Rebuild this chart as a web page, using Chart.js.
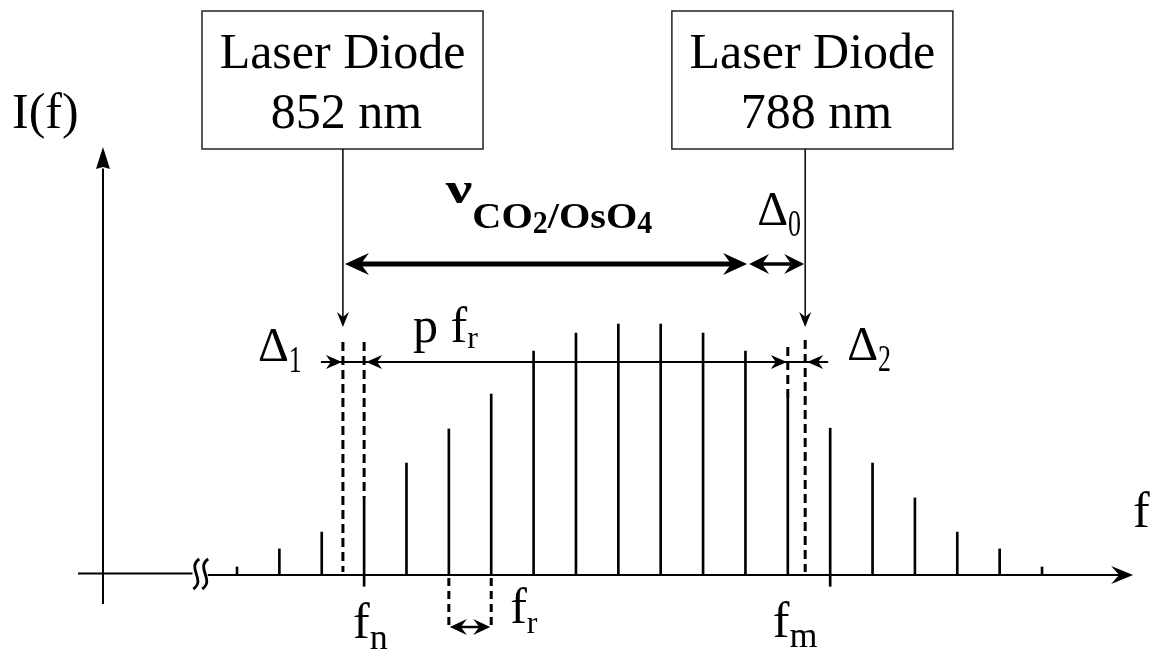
<!DOCTYPE html>
<html>
<head>
<meta charset="utf-8">
<script src="https://cdn.jsdelivr.net/npm/chart.js@4"></script>
<style>
	html, body { margin: 0; padding: 0; background: #fff; }
	#wrap { width: 1160px; height: 655px; position: relative; }
</style>
</head>
<body>
<div id="wrap"><canvas id="comb-canvas"></canvas></div>
<script>
// comb teeth: index n (in units of f_r) and relative intensity
var combIndex = [0, 1, 2, 3, 4, 5, 6, 7, 8, 9, 10, 11, 12, 13, 14, 15, 16, 17, 18, 19];
var combIntensity = [0.032, 0.104, 0.171, 0.307, 0.446, 0.582, 0.721, 0.892, 0.964, 1.0,
	1.0, 0.964, 0.892, 0.705, 0.585, 0.446, 0.307, 0.171, 0.104, 0.032];
// teeth that carry a small mark below the axis
var belowAxisTicks = [3, 14];
var belowAxisDepth = -0.045;

// the two laser diodes, position on the same frequency axis
var laserNames = ["Laser Diode", "Laser Diode"];
var laserWavelengths = ["852 nm", "788 nm"];
var laserFreq = [2.5, 13.41];
var laserBoxCenter = [2.49, 13.58];

var fnIndex = 3;
var fmIndex = 13;
var frPair = [5, 6];
var nuEnd = 12.04;

window.onload = function() {
	initChart();
}

function initChart() {
	var pxPerUnitX = 42.37, originX = 237;
	var pxPerUnitY = 251, originY = 575;

	var combData = [];
	for(var i = 0; i < combIndex.length; i++)
		combData.push({x: combIndex[i], y: combIntensity[i]});

	var tickData = [];
	for(var t of belowAxisTicks)
		tickData.push({x: t, y: [belowAxisDepth, 0]});

	window.combChart = new Chart(document.getElementById("comb-canvas"), {
		type: "bar",
		data: {
			datasets: [{
				label: "comb",
				data: combData,
				backgroundColor: "#000",
				borderWidth: 0,
				barThickness: 2,
				grouped: false
			}, {
				label: "ticks",
				data: tickData,
				backgroundColor: "#000",
				borderWidth: 0,
				barThickness: 2,
				grouped: false
			}]
		},
		options: {
			responsive: true,
			maintainAspectRatio: false,
			animation: false,
			layout: { padding: 0 },
			plugins: {
				legend: { display: false },
				tooltip: { enabled: false }
			},
			scales: {
				x: {
					type: "linear",
					display: false,
					offset: false,
					min: -originX / pxPerUnitX,
					max: (1160 - originX) / pxPerUnitX
				},
				y: {
					display: false,
					min: (originY - 655) / pxPerUnitY,
					max: originY / pxPerUnitY
				}
			}
		},
		plugins: [diagramPlugin]
	});
}

function arrowHead(ctx, tipX, tipY, dx, dy, len, half, notch) {
	var nx = -dy, ny = dx;
	ctx.beginPath();
	ctx.moveTo(tipX, tipY);
	ctx.lineTo(tipX - len * dx + half * nx, tipY - len * dy + half * ny);
	ctx.lineTo(tipX - notch * dx, tipY - notch * dy);
	ctx.lineTo(tipX - len * dx - half * nx, tipY - len * dy - half * ny);
	ctx.closePath();
	ctx.fill();
}

function line(ctx, x1, y1, x2, y2, w, dash) {
	ctx.save();
	ctx.lineWidth = w;
	ctx.setLineDash(dash || []);
	ctx.beginPath();
	ctx.moveTo(x1, y1);
	ctx.lineTo(x2, y2);
	ctx.stroke();
	ctx.restore();
}

// draws a run of text pieces [text, font, dy, sx, sy]; returns total width
function textRun(ctx, x, y, parts, measureOnly) {
	var cx = x;
	for(var p of parts) {
		var sx = p[3] || 1, sy = p[4] || 1;
		ctx.font = p[1];
		if(!measureOnly) {
			ctx.save();
			ctx.translate(cx, y + p[2]);
			ctx.scale(sx, sy);
			ctx.fillText(p[0], 0, 0);
			ctx.restore();
		}
		cx += ctx.measureText(p[0]).width * sx;
	}
	return cx - x;
}

var diagramPlugin = {
	id: "diagram",
	afterDatasetsDraw: function(chart) {
		var ctx = chart.ctx;
		var xs = chart.scales.x, ys = chart.scales.y;
		var X = function(v) { return xs.getPixelForValue(v); };
		var Y = function(v) { return ys.getPixelForValue(v); };
		var serif = "\"Liberation Serif\", \"Times New Roman\", serif";

		ctx.save();
		ctx.strokeStyle = "#000";
		ctx.fillStyle = "#000";
		ctx.textBaseline = "alphabetic";

		// axes
		var y0 = Y(0);
		var axisX = X(-3.163);
		line(ctx, 78, y0 - 1.5, X(-1.05), y0 - 1.5, 2);
		line(ctx, X(-0.69), y0, X(21.0), y0, 2);
		arrowHead(ctx, X(21.15), y0, 1, 0, 22, 9, 14);
		line(ctx, axisX, Y(-0.116), axisX, Y(1.62), 2);
		arrowHead(ctx, axisX, Y(1.705), 0, -1, 22, 7, 20);

		// axis break
		ctx.lineWidth = 2.8;
		for(var bx of [X(-0.96), X(-0.75)]) {
			ctx.beginPath();
			ctx.moveTo(bx + 3, y0 - 16);
			ctx.bezierCurveTo(bx - 10, y0 - 7, bx + 10, y0 + 5, bx - 3, y0 + 14);
			ctx.stroke();
		}

		ctx.font = "50px " + serif;
		ctx.fillText("I(f)", 12, 128);
		ctx.fillText("f", 1133, 527);

		// laser boxes and arrows down to the comb
		var boxW = 281, boxTop = 11, boxBottom = 149;
		for(var i = 0; i < laserNames.length; i++) {
			var cx = X(laserBoxCenter[i]);
			ctx.lineWidth = 1.5;
			ctx.strokeStyle = "#222";
			ctx.strokeRect(cx - boxW / 2, boxTop, boxW, boxBottom - boxTop);
			ctx.strokeStyle = "#000";
			ctx.font = "50px " + serif;
			ctx.textAlign = "center";
			ctx.fillText(laserNames[i], cx, 68);
			ctx.fillText(laserWavelengths[i], cx + 4, 128);
			ctx.textAlign = "left";

			var lx = X(laserFreq[i]);
			line(ctx, lx, boxBottom, lx, Y(0.988) - 6, 1.5);
			arrowHead(ctx, lx, Y(0.988), 0, 1, 15, 6, 10);
		}

		// nu arrow and delta_0
		var l1 = X(laserFreq[0]), l2 = X(laserFreq[1]), ne = X(nuEnd);
		var yNu = Y(1.239);
		line(ctx, l1 + 10, yNu, ne - 10, yNu, 5);
		arrowHead(ctx, l1 + 2, yNu, -1, 0, 24, 11, 16);
		arrowHead(ctx, ne, yNu, 1, 0, 24, 11, 16);
		line(ctx, ne + 10, yNu, l2 - 10, yNu, 3.5);
		arrowHead(ctx, ne + 2, yNu, -1, 0, 20, 10, 13);
		arrowHead(ctx, l2 - 1, yNu, 1, 0, 20, 10, 13);

		var nuLabel = [["\u03bd", "bold 44px " + serif, -61, 1.35, 1.0],
			["CO", "bold 38px " + serif, -36, 1.06, 0.97],
			["2", "bold 30px " + serif, -31, 1.0, 1.05],
			["/OsO", "bold 38px " + serif, -36, 1.06, 0.97],
			["4", "bold 30px " + serif, -31, 1.0, 1.05]];
		var total = textRun(ctx, 0, 0, nuLabel, true);
		textRun(ctx, (l1 + ne) / 2 - total / 2 + 4, yNu, nuLabel);

		var deltaSub = function(x, y, digit) {
			textRun(ctx, x, y, [["\u0394", "48px " + serif, 0], [digit, "36px " + serif, 11, 0.72, 1.05]]);
		};
		deltaSub(ne + 10, yNu - 39, "0");

		// p f_r arrow with delta_1 and delta_2
		var yP = Y(0.849);
		var fn = X(fnIndex), fm = X(fmIndex);
		line(ctx, l1 - 22, yP, l2 + 23, yP, 2);
		arrowHead(ctx, l1 - 1, yP, 1, 0, 16, 7, 11);
		arrowHead(ctx, fn + 2, yP, -1, 0, 16, 7, 11);
		arrowHead(ctx, fm - 1, yP, 1, 0, 16, 7, 11);
		arrowHead(ctx, l2 + 2, yP, -1, 0, 16, 7, 11);

		var dash = [9, 5];
		line(ctx, l1, Y(0.928), l1, y0 - 3, 3, dash);
		line(ctx, fn, Y(0.928), fn, Y(combIntensity[fnIndex]), 3, dash);
		line(ctx, fm, Y(0.908), fm, Y(combIntensity[fmIndex]), 3, dash);
		line(ctx, l2, Y(0.936), l2, y0 - 3, 3, dash);

		textRun(ctx, fn + 49, 342, [["p f", "50px " + serif, 0], ["r", "32px " + serif, 6]]);
		deltaSub(l1 - 85, 361, "1");
		deltaSub(l2 + 42, 360, "2");

		// f_r spacing marker below the axis
		var a = X(frPair[0]), b = X(frPair[1]);
		var yF = y0 + 52;
		line(ctx, a, y0 + 3, a, yF, 3, [8, 5]);
		line(ctx, b, y0 + 3, b, yF, 3, [8, 5]);
		line(ctx, a + 6, yF, b - 6, yF, 2.5);
		arrowHead(ctx, a + 1, yF, -1, 0, 17, 8, 11);
		arrowHead(ctx, b - 1, yF, 1, 0, 17, 8, 11);

		textRun(ctx, b + 19, 623, [["f", "50px " + serif, 0], ["r", "32px " + serif, 10]]);
		textRun(ctx, fn - 11, 638, [["f", "50px " + serif, 0], ["n", "36px " + serif, 11]]);
		textRun(ctx, fm - 15, 637, [["f", "50px " + serif, 0], ["m", "36px " + serif, 10]]);

		ctx.restore();
	}
};
</script>
</body>
</html>
